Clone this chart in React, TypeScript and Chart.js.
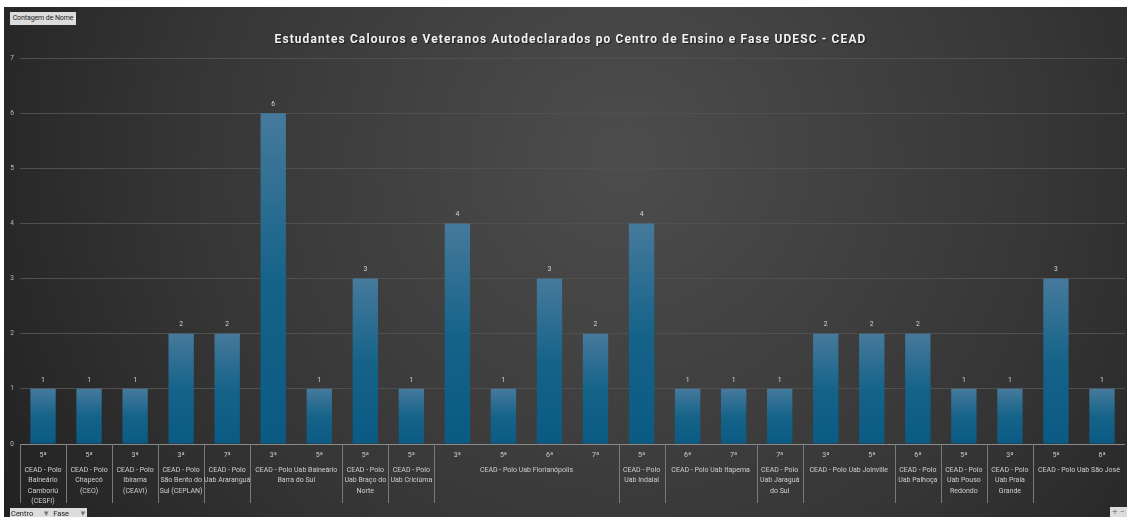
import React, { useEffect, useRef } from "react";
import { Chart, registerables } from "chart.js";

Chart.register(...registerables);

const fases = ["5ª","5ª","3ª","3ª","7ª","3ª","5ª","5ª","5ª","3ª","5ª","6ª","7ª","5ª","6ª","7ª","7ª","3ª","5ª","6ª","5ª","3ª","5ª","6ª"];
const valores = [1,1,1,2,2,6,1,3,1,4,1,3,2,4,1,1,1,2,2,2,1,1,3,1];
const centroNames = [
  "CEAD - Polo Balneário Camboriú (CESFI)",
  "CEAD - Polo Chapecó (CEO)",
  "CEAD - Polo Ibirama (CEAVI)",
  "CEAD - Polo São Bento do Sul (CEPLAN)",
  "CEAD - Polo Uab Araranguá",
  "CEAD - Polo Uab Balneário Barra do Sul",
  "CEAD - Polo Uab Braço do Norte",
  "CEAD - Polo Uab Criciúma",
  "CEAD - Polo Uab Florianópolis",
  "CEAD - Polo Uab Indaial",
  "CEAD - Polo Uab Itapema",
  "CEAD - Polo Uab Jaraguá do Sul",
  "CEAD - Polo Uab Joinville",
  "CEAD - Polo Uab Palhoça",
  "CEAD - Polo Uab Pouso Redondo",
  "CEAD - Polo Uab Praia Grande",
  "CEAD - Polo Uab São José",
];
const centroLines = [
  ["CEAD - Polo", "Balneário", "Camboriú", "(CESFI)"],
  ["CEAD - Polo", "Chapecó", "(CEO)"],
  ["CEAD - Polo", "Ibirama", "(CEAVI)"],
  ["CEAD - Polo", "São Bento do", "Sul (CEPLAN)"],
  ["CEAD - Polo", "Uab Araranguá"],
  ["CEAD - Polo Uab Balneário", "Barra do Sul"],
  ["CEAD - Polo", "Uab Braço do", "Norte"],
  ["CEAD - Polo", "Uab Criciúma"],
  ["CEAD - Polo Uab Florianópolis"],
  ["CEAD - Polo", "Uab Indaial"],
  ["CEAD - Polo Uab Itapema"],
  ["CEAD - Polo", "Uab Jaraguá", "do Sul"],
  ["CEAD - Polo Uab Joinville"],
  ["CEAD - Polo", "Uab Palhoça"],
  ["CEAD - Polo", "Uab Pouso", "Redondo"],
  ["CEAD - Polo", "Uab Praia", "Grande"],
  ["CEAD - Polo Uab São José"],
];
// index into centroNames for each bar
const barCentro = [0,1,2,3,4,5,5,6,7,8,8,8,8,9,10,10,11,12,12,13,14,15,16,16];
const yTicks = [0,1,2,3,4,5,6,7];
const titleText = "Estudantes Calouros e Veteranos Autodeclarados po Centro de Ensino e Fase UDESC - CEAD";

const FONT = "Roboto, 'Open Sans', sans-serif";

const bgPlugin = {
  id: "bgPlugin",
  beforeDraw(chart: any) {
    const { ctx, width, height } = chart;
    ctx.save();
    const g = ctx.createRadialGradient(620, 150, 0, 620, 150, 780);
    g.addColorStop(0, "#4d4d4d");
    g.addColorStop(0.55, "#363636");
    g.addColorStop(1, "#1d1d1d");
    ctx.fillStyle = g;
    ctx.fillRect(0, 0, width, height);
    ctx.restore();
  },
};

const overlayPlugin = {
  id: "overlayPlugin",
  afterDraw(chart: any) {
    const { ctx, chartArea } = chart;
    const xs = chart.scales.x;
    const meta = chart.getDatasetMeta(0);
    ctx.save();
    // title
    ctx.font = `bold 12px ${FONT}`;
    (ctx as any).letterSpacing = "1.1px";
    ctx.fillStyle = "#f2f2f2";
    ctx.textAlign = "center";
    ctx.textBaseline = "middle";
    ctx.shadowColor = "rgba(0,0,0,0.6)";
    ctx.shadowOffsetX = 1;
    ctx.shadowOffsetY = 1;
    ctx.shadowBlur = 1;
    ctx.fillText(titleText, chart.width / 2 + 5, 33);
    ctx.shadowColor = "transparent";
    (ctx as any).letterSpacing = "0px";

    // data labels
    ctx.font = `6.8px ${FONT}`;
    ctx.fillStyle = "#d6d6d6";
    meta.data.forEach((bar: any, i: number) => {
      ctx.fillText(String(valores[i]), bar.x, bar.y - 9);
    });

    // axis line
    const bottom = chartArea.bottom;
    ctx.strokeStyle = "#8a8a8a";
    ctx.lineWidth = 1;
    ctx.beginPath();
    ctx.moveTo(chartArea.left, Math.round(bottom) + 0.5);
    ctx.lineTo(chartArea.right, Math.round(bottom) + 0.5);
    ctx.stroke();

    // fase labels
    ctx.font = `7px ${FONT}`;
    ctx.fillStyle = "#cfcfcf";
    fases.forEach((f, i) => {
      ctx.fillText(f, xs.getPixelForValue(i), bottom + 11);
    });

    // group labels and separators
    const half = (xs.getPixelForValue(1) - xs.getPixelForValue(0)) / 2;
    ctx.strokeStyle = "#7a7a7a";
    let i = 0;
    while (i < barCentro.length) {
      const c = barCentro[i];
      let j = i;
      while (j + 1 < barCentro.length && barCentro[j + 1] === c) j++;
      const left = xs.getPixelForValue(i) - half;
      const right = xs.getPixelForValue(j) + half;
      ctx.beginPath();
      ctx.moveTo(Math.round(left) + 0.5, bottom);
      ctx.lineTo(Math.round(left) + 0.5, bottom + 59);
      ctx.stroke();
      const cx = (left + right) / 2;
      centroLines[c].forEach((ln, k) => {
        ctx.fillText(ln, cx, bottom + 26 + k * 10.5);
      });
      i = j + 1;
    }
    ctx.restore();
  },
};

export default function App() {
  const ref = useRef<HTMLCanvasElement | null>(null);
  useEffect(() => {
    if (!ref.current) return;
    const chart = new Chart(ref.current, {
      type: "bar",
      data: {
        labels: fases.map((f, i) => `${centroNames[barCentro[i]]} ${f}`),
        datasets: [
          {
            data: valores,
            backgroundColor: (c: any) => {
              const ch = c.chart;
              const ca = ch.chartArea;
              if (!ca || c.dataIndex === undefined) return "#1a6388";
              const y = ch.scales.y;
              const top = y.getPixelForValue(valores[c.dataIndex]);
              const bot = y.getPixelForValue(0);
              const g = ch.ctx.createLinearGradient(0, top, 0, bot);
              g.addColorStop(0, "#467a9c");
              g.addColorStop(0.5, "#166389");
              g.addColorStop(1, "#0a5a84");
              return g;
            },
            borderWidth: 0,
            barPercentage: 0.55,
            categoryPercentage: 1,
          },
        ],
      },
      options: {
        animation: false,
        responsive: true,
        maintainAspectRatio: false,
        layout: { padding: { top: 51, bottom: 73, left: 2, right: 2 } },
        plugins: {
          legend: { display: false },
          title: { display: false },
          tooltip: { enabled: false },
        },
        scales: {
          x: {
            display: false,
          },
          y: {
            min: 0,
            max: 7,
            afterBuildTicks: (s: any) => {
              s.ticks = yTicks.map((v) => ({ value: v }));
            },
            afterFit: (s: any) => {
              s.width = 14;
            },
            ticks: {
              color: "#bdbdbd",
              font: { size: 6.5, family: FONT },
              padding: 6,
            },
            grid: { color: "#505050", drawTicks: false, lineWidth: 1 },
            border: { display: false },
          },
        },
      },
      plugins: [bgPlugin, overlayPlugin],
    });
    return () => chart.destroy();
  }, []);

  const btn: React.CSSProperties = {
    position: "absolute",
    background: "#dcdcdc",
    color: "#222",
    fontFamily: FONT,
    fontSize: "7px",
    lineHeight: "13px",
    whiteSpace: "nowrap",
    boxSizing: "border-box",
  };
  const funnel: React.CSSProperties = { color: "#777", fontSize: "8px", display: "inline-block" };

  return (
    <div style={{ position: "absolute", left: 4, top: 7, width: 1123, height: 510 }}>
      <canvas ref={ref} />
      <div style={{ ...btn, left: 6, top: 5, height: 13, width: 66, textAlign: "center", letterSpacing: "-0.1px" }}>
        Contagem de Nome
      </div>
      <div style={{ ...btn, left: 6, top: 501, height: 9, width: 77, lineHeight: "11px", fontSize: "7.5px", paddingLeft: 1 }}>
        Centro<span style={{ ...funnel, marginLeft: 9 }}>▼</span>
        <span style={{ marginLeft: 3 }}>Fase</span>
        <span style={{ ...funnel, marginLeft: 10 }}>▼</span>
      </div>
      <div style={{ ...btn, left: 1106, top: 500, height: 10, width: 17, lineHeight: "10px", color: "#888", fontSize: "9px", textAlign: "center" }}>
        + −
      </div>
    </div>
  );
}
